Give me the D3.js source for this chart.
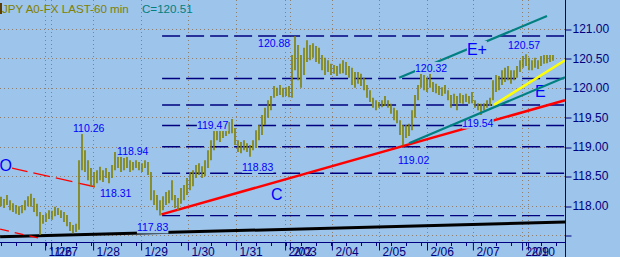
<!DOCTYPE html>
<html>
<head>
<meta charset="utf-8">
<script src="https://cdn.jsdelivr.net/npm/d3@7"></script>
<style>
  html, body { margin: 0; padding: 0; background: #9dc4ea; }
  svg { display: block; font-family: Arial, "Liberation Sans", sans-serif; }
</style>
</head>
<body>
<div id="chart"></div>
<script>
// hourly bars (one entry per bar)
const highs = [
  118.15, 118.11, 118.18, 118.09, 118.04, 118.01, 117.99, 118.01, 118.09, 118.16,
  118.20, 118.13, 118.03, 117.89, 117.84, 117.87, 117.92, 117.91, 117.98, 117.96,
  117.92, 117.89, 117.84, 117.72, 117.67, 117.69, 118.77, 119.26, 118.94, 118.77,
  118.64, 118.57, 118.60, 118.66, 118.60, 118.64, 118.57, 118.69, 118.91, 118.94,
  118.86, 118.81, 118.86, 118.77, 118.74, 118.77, 118.74, 118.72, 118.77, 118.74,
  118.57, 118.26, 118.18, 118.09, 118.16, 118.23, 118.26, 118.43, 118.18, 118.13,
  118.30, 118.35, 118.47, 118.57, 118.60, 118.69, 118.72, 118.67, 118.77, 118.94,
  119.11, 119.28, 119.32, 119.28, 119.32, 119.35, 119.42, 119.47, 119.32, 119.11,
  119.08, 119.11, 119.06, 119.03, 119.11, 119.28, 119.37, 119.54, 119.66, 119.79,
  119.86, 120.03, 120.00, 120.05, 120.00, 120.01, 120.03, 120.56, 120.88, 120.73,
  120.56, 120.68, 120.81, 120.73, 120.76, 120.71, 120.68, 120.56, 120.51, 120.47,
  120.41, 120.39, 120.37, 120.41, 120.47, 120.44, 120.37, 120.34, 120.27, 120.27,
  120.24, 120.17, 120.05, 119.96, 119.83, 119.79, 119.76, 119.79, 119.86, 119.79,
  119.73, 119.66, 119.62, 119.45, 119.37, 119.37, 119.39, 119.62, 119.88, 120.05,
  120.32, 120.22, 120.17, 120.27, 120.10, 120.07, 120.03, 120.01, 120.05, 119.96,
  119.88, 119.90, 119.86, 119.91, 119.88, 119.90, 119.86, 119.93, 119.79, 119.74,
  119.73, 119.74, 119.79, 119.83, 120.13, 120.22, 120.20, 120.30, 120.34, 120.37,
  120.30, 120.30, 120.37, 120.47, 120.54, 120.57, 120.51, 120.47, 120.51, 120.47,
  120.54, 120.56, 120.56, 120.56, 120.56
];
const lows = [
  117.99, 117.96, 118.01, 117.92, 117.89, 117.86, 117.84, 117.87, 117.92, 117.99,
  117.98, 117.89, 117.82, 117.50, 117.69, 117.72, 117.77, 117.76, 117.82, 117.84,
  117.79, 117.72, 117.65, 117.57, 117.53, 117.55, 117.59, 118.60, 118.57, 118.43,
  118.33, 118.31, 118.38, 118.43, 118.40, 118.47, 118.38, 118.47, 118.60, 118.64,
  118.57, 118.60, 118.64, 118.57, 118.60, 118.64, 118.60, 118.57, 118.64, 118.52,
  118.09, 118.01, 117.92, 117.83, 117.92, 118.01, 118.04, 118.09, 117.96, 117.92,
  118.03, 118.09, 118.18, 118.26, 118.33, 118.47, 118.52, 118.47, 118.50, 118.64,
  118.77, 118.94, 119.11, 119.08, 119.15, 119.18, 119.22, 119.23, 119.03, 118.91,
  118.89, 118.94, 118.91, 118.83, 118.94, 118.98, 119.11, 119.20, 119.37, 119.49,
  119.62, 119.83, 119.86, 119.88, 119.84, 119.86, 119.84, 119.83, 120.30, 120.13,
  120.00, 120.22, 120.44, 120.47, 120.51, 120.44, 120.41, 120.30, 120.22, 120.27,
  120.22, 120.24, 120.20, 120.24, 120.25, 120.22, 120.17, 120.05, 120.00, 120.07,
  120.03, 119.96, 119.83, 119.76, 119.66, 119.62, 119.66, 119.67, 119.69, 119.66,
  119.56, 119.45, 119.40, 119.20, 119.02, 119.15, 119.18, 119.28, 119.49, 119.79,
  120.00, 119.96, 119.93, 120.00, 119.93, 119.91, 119.88, 119.86, 119.90, 119.79,
  119.66, 119.73, 119.62, 119.74, 119.73, 119.76, 119.73, 119.74, 119.66, 119.62,
  119.54, 119.62, 119.66, 119.69, 119.79, 119.93, 119.96, 120.05, 120.10, 120.13,
  120.07, 120.13, 120.17, 120.27, 120.34, 120.37, 120.30, 120.30, 120.34, 120.32,
  120.37, 120.41, 120.42, 120.44, 120.46
];

// day boundaries (in bar units) and their labels
const dayTicks  = [14.7, 16.7, 30.7, 46.7, 62.3, 78.3, 94.7, 96.3, 110.3, 126, 142, 157.3, 173.7, 175.7];
const dayLabels = ['1/26', '1/27', '1/28', '1/29', '1/30', '1/31', '2/02', '2/03', '2/04', '2/05', '2/06', '2/07', '2/09', '2/10'];

const priceTicks = [117.5, 118, 118.5, 119, 119.5, 120, 120.5, 121];

// retracement levels between 117.83 and 120.88
const fibLevels = [117.83, 118.55, 119.00, 119.36, 119.71, 120.16, 120.88];
const fibStart = 53.7;

// drawn lines: [bar, price] end points
const lineC     = [[53.5, 117.85], [188, 119.79]];
const lineO     = [[3.3, 118.64], [40, 118.22]];
const lineOLow  = [[-0.3, 117.60], [14, 117.43]];
const lineEUp   = [[132.7, 120.17], [182, 121.22]];
const lineELow  = [[136, 119.06], [188, 120.18]];
const lineYel   = [[164.3, 119.71], [188, 120.47]];
const lineBlack = [[-0.3, 117.47], [188, 117.72]];

// annotations: text, bar, price (baseline anchor)
const notes = [
  ['120.88', 85.7, 120.69], ['110.26', 24, 119.25], ['119.47', 65.3, 119.30],
  ['118.94', 38.7, 118.86], ['118.31', 33, 118.14], ['118.83', 80.3, 118.59],
  ['117.83', 45.3, 117.56], ['119.02', 132.3, 118.71], ['120.32', 138, 120.27],
  ['120.57', 169, 120.66], ['119.54', 153.7, 119.34]
];
const bigNotes = [['C', 90, 118.09], ['O', -0.5, 118.59], ['E+', 155.3, 120.56], ['E', 178, 119.84]];

const title = 'JPY A0-FX LAST-60 min';
const lastClose = 'C=120.51';

const W = 620, H = 257;
const RIGHT = 565, BOTTOM = 242;
const BG = '#9dc4ea', NAVY = '#000080';

const svg = d3.select('#chart').append('svg')
  .attr('width', W)
  .attr('height', H);

svg.append('rect').attr('width', W).attr('height', H).attr('fill', BG);

const x = d3.scaleLinear().domain([0, 188]).range([1, RIGHT]);
const y = d3.scaleLinear().domain([117.5, 121]).range([235, 29]);
const px = v => Math.round(v) + 0.5;

// dotted grid
svg.append('g').selectAll('line').data(priceTicks).join('line')
  .attr('x1', 0).attr('x2', RIGHT)
  .attr('y1', d => px(y(d))).attr('y2', d => px(y(d)))
  .attr('stroke', '#8f7f6c').attr('stroke-dasharray', '1,3');

svg.append('g').selectAll('line').data(dayTicks).join('line')
  .attr('x1', d => px(x(d))).attr('x2', d => px(x(d)))
  .attr('y1', 0).attr('y2', BOTTOM)
  .attr('stroke', '#8f7f6c').attr('stroke-dasharray', '1,3');

// retracement dashes
svg.append('g').selectAll('line').data(fibLevels).join('line')
  .attr('x1', x(fibStart)).attr('x2', RIGHT)
  .attr('y1', d => y(d)).attr('y2', d => y(d))
  .attr('stroke', NAVY).attr('stroke-width', 1.4)
  .attr('stroke-dasharray', '18,6');

const seg = (pts, color, width, dash) => {
  const l = svg.append('line')
    .attr('x1', x(pts[0][0])).attr('y1', y(pts[0][1]))
    .attr('x2', x(pts[1][0])).attr('y2', y(pts[1][1]))
    .attr('stroke', color).attr('stroke-width', width);
  if (dash) l.attr('stroke-dasharray', dash);
  return l;
};

seg(lineBlack, '#000', 3);
seg(lineO, '#ff0000', 1.3, '17,6');
seg(lineOLow, '#ff0000', 1.3, '9,6');
seg(lineC, '#ff0000', 2.5);
seg(lineEUp, '#008080', 2.2);
seg(lineYel, '#ffff00', 2.5);

// price bars
svg.append('g').selectAll('line').data(highs).join('line')
  .attr('x1', (d, i) => x(i)).attr('x2', (d, i) => x(i))
  .attr('y1', d => y(d)).attr('y2', (d, i) => y(lows[i]))
  .attr('stroke', '#808000').attr('stroke-width', 1.6);

// annotations with a box behind them
const note = (list, size) => {
  list.forEach(([t, b, p]) => {
    const g = svg.append('g');
    const txt = g.append('text')
      .attr('x', x(b)).attr('y', y(p))
      .attr('font-size', size)
      .attr('fill', '#0000ff')
      .text(t);
    const bb = txt.node().getBBox();
    g.insert('rect', 'text')
      .attr('x', bb.x).attr('y', bb.y)
      .attr('width', bb.width).attr('height', bb.height)
      .attr('fill', BG);
  });
};
note(notes, '10.5px');
note(bigNotes, '16px');

seg(lineELow, '#008080', 2.2);

// right axis
const yAxis = d3.axisRight(y)
  .tickValues(priceTicks)
  .tickSize(6)
  .tickPadding(1)
  .tickFormat(d => d === 117.5 ? '' : d.toFixed(2));

const ya = svg.append('g')
  .attr('transform', `translate(${RIGHT + 0.5}, 0)`)
  .call(yAxis);
ya.select('.domain').remove();
ya.selectAll('line').attr('stroke', NAVY).attr('transform', d => `translate(0, ${px(y(d)) - y(d)})`);
ya.selectAll('text').attr('fill', NAVY).attr('font-size', '12px').attr('font-family', 'Arial, "Liberation Sans", sans-serif');

svg.append('line')
  .attr('x1', RIGHT + 0.5).attr('x2', RIGHT + 0.5)
  .attr('y1', 0).attr('y2', H)
  .attr('stroke', NAVY);

// bottom axis
svg.append('g').selectAll('line').data(x.ticks(38)).join('line')
  .attr('x1', d => px(x(d))).attr('x2', d => px(x(d)))
  .attr('y1', BOTTOM).attr('y2', BOTTOM + 4)
  .attr('stroke', NAVY);

const xAxis = d3.axisBottom(x)
  .tickValues(dayTicks)
  .tickSize(8)
  .tickFormat((d, i) => dayLabels[i]);

const xa = svg.append('g')
  .attr('transform', `translate(0, ${BOTTOM + 0.5})`)
  .call(xAxis);
xa.select('.domain').remove();
xa.selectAll('line').attr('stroke', NAVY);
xa.selectAll('text')
  .attr('fill', NAVY)
  .attr('font-size', '12px')
  .attr('font-family', 'Arial, "Liberation Sans", sans-serif')
  .attr('text-anchor', 'start')
  .attr('x', 3).attr('y', 13).attr('dy', 0);

svg.append('line')
  .attr('x1', 0).attr('x2', RIGHT)
  .attr('y1', BOTTOM + 0.5).attr('y2', BOTTOM + 0.5)
  .attr('stroke', NAVY);

// title
svg.append('rect').attr('x', 0).attr('y', 3).attr('width', 2).attr('height', 11).attr('fill', '#5c3c00');
svg.append('text').attr('x', 2).attr('y', 13)
  .attr('font-size', '11.6px').attr('fill', '#808000').text(title);
svg.append('text').attr('x', 142).attr('y', 13)
  .attr('font-size', '11.6px').attr('fill', '#008080').text(lastClose);
</script>
</body>
</html>
